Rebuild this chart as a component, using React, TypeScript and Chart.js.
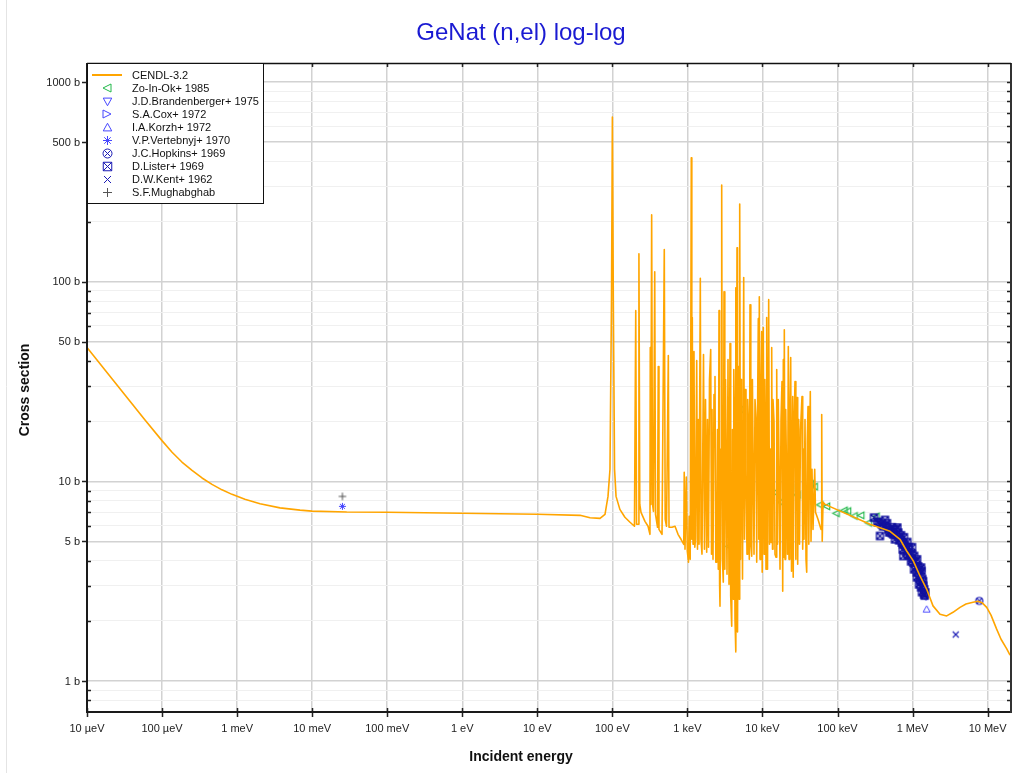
import React, { useEffect, useRef } from "react";
import { Chart, registerables } from "chart.js";

Chart.register(...registerables);

// ---------- CENDL-3.2 evaluated curve (energy in eV, cross section in b) ----------
const cendlEnergy = [
  1e-5, 2.22e-5, 3.74e-5, 5.93e-5, 9.98e-5, 1.36e-4, 1.84e-4, 2.51e-4, 3.41e-4, 4.63e-4, 6.29e-4, 8.55e-4, 1.27e-3,
  2.02e-3, 3.73e-3, 6.89e-3, 9.95e-3, 0.0289, 0.1, 1, 10, 37.1,
  50.4, 68.5, 79.8, 87.5, 93.0, 97.4, 100.1, 103, 107, 112, 126, 147, 172, 197, 205, 210, 223, 226, 232, 241, 272, 299,
  317, 320, 325, 334, 343, 353, 367, 376, 400, 409, 418, 459, 492, 506, 527, 557, 569, 623, 684, 750, 822, 895, 907,
  929, 967, 997, 1034, 1057, 1090, 1127, 1145, 1162, 1188, 1224, 1255, 1282, 1330, 1363, 1393, 1428, 1486, 1518, 1565, 1639,
  1690, 1743, 1808, 1853, 1911, 1970, 2044, 2095, 2127, 2194, 2262, 2332, 2390, 2457, 2518, 2580, 2637, 2686, 2719, 2804, 2864, 2927, 3009,
  3074, 3151, 3219, 3269, 3371, 3475, 3584, 3696, 3776, 3894, 3990, 4090, 4153, 4204, 4308, 4401, 4429, 4511, 4581, 4651, 4826,
  4886, 4977, 5101, 5179, 5260, 5424, 5626, 5767, 5908, 6036, 6225, 6361, 6519, 6681, 6826, 6995, 7191, 7347, 7484, 7718, 7958, 8205, 8385, 8590, 8807,
  8943, 9082, 9279, 9508, 9774, 9924, 10270, 10490, 10750, 10980, 11150, 11390, 11680, 12110, 12420, 12800, 13000, 13280, 13610,
  13820, 14260, 14700, 15160, 15490, 15870, 16260, 16620, 17140, 17670, 18220, 18620, 18970, 19260, 19560, 19980, 20410, 20920, 21570, 22110,
  22590, 23140, 23790, 24390, 25310, 25700, 26330, 27150, 27740, 27990, 28870, 29490, 30420, 31170, 32140, 33650, 34390, 35240, 35790, 36900, 38060,
  38880, 39590, 40460, 41470, 42360, 43410, 44360, 45730, 47170, 49700, 50930, 54980, 60290, 61590, 62550, 64100, 68150,
  2.71e5, 5.007e5, 6.807e5, 8.36e5, 1.023e6, 1.257e6, 1.544e6, 1.873e6, 2.322e6, 2.851e6, 3.459e6, 4.288e6, 5.154e6,
  6.39e6, 7.45e6, 8.42e6, 9.73e6, 1.11e7, 1.32e7, 1.51e7, 1.8e7, 1.99e7,
];
const cendlSigma = [
  46.8, 32.2, 25.2, 20.3, 16.0, 14.0, 12.5, 11.35, 10.4, 9.66, 9.07, 8.61, 8.13,
  7.72, 7.37, 7.18, 7.1, 7.02, 7.0, 6.92, 6.84, 6.76,
  6.58, 6.53, 6.84, 8.41, 11.5, 81.3, 668, 81.3, 11.5, 8.41, 7.24, 6.61, 6.24, 5.96, 71.6, 6.1, 6.1, 138, 7.67, 7.0, 6.31, 5.96,
  5.43, 46.8, 7.67, 216, 7.67, 7.08, 112, 6.84, 5.89, 37.6, 5.75, 5.43, 145, 6.46, 5.96, 42.7, 5.89, 5.89, 5.96, 5.43, 5.13, 4.84, 11.1,
  4.57, 10.5, 4.47, 3.94, 6.68, 4.07, 417, 5.13, 66.1, 4.84, 44.7, 4.68, 5.13, 40.3, 4.57, 20.4, 4.84, 104, 5.13, 4.32, 43.2,
  4.57, 25.7, 4.42, 20.4, 4.68, 32.4, 45.7, 4.32, 22.9, 4.07, 27.2, 33.5, 3.94, 3.94, 18.2, 3.63, 71.6, 3.05, 2.37, 14.5, 305, 4.07, 3.13,
  89.1, 3.63, 32.4, 16.2, 3.43, 40.7, 3.05, 49.0, 2.66, 1.88, 18.2, 2.57, 36.3, 25.7, 2.04, 93.3, 1.4, 12.9, 148, 1.76, 37.6,
  2.57, 245, 4.07, 32.4, 20.4, 3.24, 105, 5.13, 28.8, 11.5, 4.32, 25.7, 18.2, 4.07, 76.7, 4.84, 4.22, 32.4, 14.5, 4.32, 25.7, 20.4, 3.94, 20.4, 65.3,
  5.13, 84.1, 4.07, 25.7, 56.2, 3.51, 58.9, 4.32, 32.4, 16.2, 3.63, 66.1, 3.63, 81.3, 4.84, 14.5, 4.95, 46.8, 4.57,
  25.7, 19.95, 4.32, 4.17, 36.3, 4.84, 25.7, 12.9, 3.63, 20.4, 31.6, 2.82, 40.7, 4.17, 57.5, 4.07, 22.9, 11.5, 4.32, 47.3,
  4.07, 20.4, 41.7, 3.55, 26.6, 3.31, 18.2, 31.6, 4.07, 16.2, 26.3, 3.85, 20.4, 4.84, 18.2, 26.6, 4.57, 14.5, 5.13, 20.4, 4.07,
  3.51, 16.2, 23.7, 4.84, 12.9, 28.2, 5.01, 11.5, 5.75, 11.5, 7.0, 6.46, 5.75, 21.6, 5.01, 7.85, 7.67,
  6.1, 5.62, 5.13, 4.48, 4.0, 3.36, 2.88, 2.38, 2.16, 2.12, 2.21, 2.34, 2.43,
  2.48, 2.51, 2.47, 2.34, 2.14, 1.82, 1.62, 1.45, 1.35,
];

// ---------- EXFOR experimental data ----------
const zoEnergy = [3.58e3, 5.02e3, 9.57e3, 1.14e4, 1.47e4, 1.74e4, 2.35e4, 2.89e4, 4.37e4, 4.89e4, 5.79e4, 7.13e4, 9.55e4, 1.22e5, 1.36e5, 1.66e5, 2.04e5, 2.57e5, 3.26e5, 4.5e5];
const zoSigma = [4.73, 22.9, 10.4, 10.4, 8.81, 7.88, 9.26, 8.56, 9.72, 9.41, 7.63, 7.5, 6.92, 7.16, 7.1, 6.71, 6.76, 6.2, 6.68, 5.75];

const brandEnergy = [1.51e6];
const brandSigma = [2.63];

const coxEnergy = [1.05e6, 1.3e6];
const coxSigma = [4.1, 3.5];

const korzhEnergy = [1.54e6];
const korzhSigma = [2.29];

const vertEnergy = [0.0253];
const vertSigma = [7.5];

const hopkinsEnergy = [7.75e6];
const hopkinsSigma = [2.52];

const listerEnergy = [
  3.06e5, 3.39e5, 3.57e5, 3.68e5, 3.88e5, 4.04e5, 4.3e5, 4.43e5, 4.57e5, 4.75e5, 4.86e5, 5.12e5, 5.32e5, 5.32e5, 5.54e5,
  5.66e5, 5.83e5, 6.02e5, 6.02e5, 6.27e5, 6.46e5, 6.6e5, 6.81e5, 7.02e5, 7.17e5, 7.39e5, 7.46e5, 7.53e5, 7.69e5, 7.93e5,
  8.18e5, 8.51e5, 8.6e5, 8.77e5, 8.97e5, 9.25e5, 9.54e5, 9.75e5, 9.83e5, 9.84e5, 1.02e6, 1.046e6, 1.05e6, 1.1e6, 1.112e6,
  1.14e6, 1.146e6, 1.15e6, 1.19e6, 1.219e6, 1.22e6, 1.23e6, 1.26e6, 1.296e6, 1.3e6, 1.32e6, 1.336e6, 1.35e6, 1.378e6,
  1.39e6, 1.421e6, 1.43e6, 1.45e6, 1.48e6,
];
const listerSigma = [
  6.58, 6.26, 6.24, 5.33, 6.1, 5.96, 6.41, 5.98, 6.17, 5.75, 5.56, 5.58, 5.89, 5.5, 5.43,
  5.75, 5.13, 5.75, 5.37, 5.87, 5.54, 5.07, 5.23, 5.37, 4.94, 4.57, 4.84, 4.23, 5.25, 4.75,
  4.47, 4.97, 4.27, 4.66, 4.68, 4.32, 3.98, 4.11, 4.32, 4.68, 3.92, 3.63, 4.23, 3.7, 3.98,
  3.5, 3.31, 4.07, 3.75, 3.63, 3.05, 3.36, 3.17, 2.95, 3.7, 3.56, 2.79, 3.24, 3.16,
  3.0, 2.72, 2.88, 2.68, 2.78,
];

const kentEnergy = [3.76e6];
const kentSigma = [1.71];

const mughEnergy = [0.0253];
const mughSigma = [8.41];

// ---------- axes ----------
const xTickValues = [1e-5, 1e-4, 1e-3, 1e-2, 1e-1, 1, 10, 100, 1e3, 1e4, 1e5, 1e6, 1e7];
const xTickLabels = ["10 µeV", "100 µeV", "1 meV", "10 meV", "100 meV", "1 eV", "10 eV", "100 eV", "1 keV", "10 keV", "100 keV", "1 MeV", "10 MeV"];
const yGridValues = [
  0.8, 0.9, 1, 2, 3, 4, 5, 6, 7, 8, 9, 10, 20, 30, 40, 50, 60, 70, 80, 90,
  100, 200, 300, 400, 500, 600, 700, 800, 900, 1000,
];
const yLabelValues = [1, 5, 10, 50, 100, 500, 1000];
const yTickLabels = ["1 b", "5 b", "10 b", "50 b", "100 b", "500 b", "1000 b"];

const legendLabels = [
  "CENDL-3.2", "Zo-In-Ok+ 1985", "J.D.Brandenberger+ 1975", "S.A.Cox+ 1972", "I.A.Korzh+ 1972",
  "V.P.Vertebnyj+ 1970", "J.C.Hopkins+ 1969", "D.Lister+ 1969", "D.W.Kent+ 1962", "S.F.Mughabghab",
];

const FONT = '"Liberation Sans", Arial, Helvetica, sans-serif';
const ORANGE = "#FFA500";
const GREEN = "#22b84a";
const BLUE = "#4646ff";
const DBLUE = "#1a1ab4";
const NAVY = "#12129e";
const GREY = "#555555";

function makeMarker(kind: string, color: string, size: number, lw = 1): HTMLCanvasElement {
  const c = document.createElement("canvas");
  const s = Math.ceil(size) + 4;
  c.width = s;
  c.height = s;
  const g = c.getContext("2d")!;
  const m = s / 2;
  const r = size / 2;
  g.strokeStyle = color;
  g.lineWidth = lw;
  g.beginPath();
  switch (kind) {
    case "triL":
      g.moveTo(m - r, m); g.lineTo(m + r, m - r); g.lineTo(m + r, m + r); g.closePath(); break;
    case "triR":
      g.moveTo(m + r, m); g.lineTo(m - r, m - r); g.lineTo(m - r, m + r); g.closePath(); break;
    case "triD":
      g.moveTo(m, m + r); g.lineTo(m - r, m - r * 0.8); g.lineTo(m + r, m - r * 0.8); g.closePath(); break;
    case "triU":
      g.moveTo(m, m - r); g.lineTo(m - r, m + r * 0.8); g.lineTo(m + r, m + r * 0.8); g.closePath(); break;
    case "star": {
      const d = r * 0.72;
      g.moveTo(m - r, m); g.lineTo(m + r, m);
      g.moveTo(m, m - r); g.lineTo(m, m + r);
      g.moveTo(m - d, m - d); g.lineTo(m + d, m + d);
      g.moveTo(m - d, m + d); g.lineTo(m + d, m - d);
      break;
    }
    case "circX": {
      const d = r * 0.7;
      g.arc(m, m, r, 0, Math.PI * 2);
      g.moveTo(m - d, m - d); g.lineTo(m + d, m + d);
      g.moveTo(m - d, m + d); g.lineTo(m + d, m - d);
      break;
    }
    case "sqX":
      g.rect(m - r, m - r, 2 * r, 2 * r);
      g.moveTo(m - r, m - r); g.lineTo(m + r, m + r);
      g.moveTo(m - r, m + r); g.lineTo(m + r, m - r);
      break;
    case "x":
      g.moveTo(m - r, m - r); g.lineTo(m + r, m + r);
      g.moveTo(m - r, m + r); g.lineTo(m + r, m - r);
      break;
    case "plus":
      g.moveTo(m - r, m); g.lineTo(m + r, m);
      g.moveTo(m, m - r); g.lineTo(m, m + r);
      break;
  }
  g.stroke();
  return c;
}

function pts(xs: number[], ys: number[]) {
  return xs.map((x, i) => ({ x, y: ys[i] }));
}

export default function App() {
  const ref = useRef<HTMLCanvasElement | null>(null);

  useEffect(() => {
    if (!ref.current) return;

    // kind, plot colour, plot size, legend size, plot line width
    const specs: [string, string, number, number, number][] = [
      ["triL", GREEN, 6.5, 8, 1.1],
      ["triD", BLUE, 6.5, 8.5, 1],
      ["triR", BLUE, 6.5, 8, 1],
      ["triU", BLUE, 7, 8.5, 1],
      ["star", BLUE, 7, 9, 1],
      ["circX", DBLUE, 7, 9, 1.2],
      ["sqX", NAVY, 7, 8.5, 1.3],
      ["x", DBLUE, 6, 7, 1.1],
      ["plus", GREY, 7.5, 9, 1],
    ];
    const legendColors = [GREEN, BLUE, BLUE, BLUE, BLUE, DBLUE, DBLUE, DBLUE, GREY];
    const plotMarkers = specs.map(([k, c, s, , lw]) => makeMarker(k, c, s, lw));
    const legendMarkers = specs.map(([k, , , s], i) => makeMarker(k, legendColors[i], s, 1));

    const sets: [number[], number[]][] = [
      [zoEnergy, zoSigma],
      [brandEnergy, brandSigma],
      [coxEnergy, coxSigma],
      [korzhEnergy, korzhSigma],
      [vertEnergy, vertSigma],
      [hopkinsEnergy, hopkinsSigma],
      [listerEnergy, listerSigma],
      [kentEnergy, kentSigma],
      [mughEnergy, mughSigma],
    ];
    const drawOrder = [9, 4, 6, 5, 8, 3, 2, 7, 3];

    const decor = {
      id: "decor",
      afterDatasetsDraw(chart: any) {
        const { ctx, chartArea: a, scales } = chart;
        const x = scales.x;
        const y = scales.y;
        ctx.save();
        ctx.strokeStyle = "#222";
        ctx.lineWidth = 1.5;
        ctx.beginPath();
        yGridValues.forEach((v) => {
          const py = Math.round(y.getPixelForValue(v)) + 0.5;
          if (yLabelValues.includes(v)) {
            ctx.moveTo(a.left - 5, py); ctx.lineTo(a.left, py);
          } else {
            ctx.moveTo(a.left, py); ctx.lineTo(a.left + 4, py);
          }
          ctx.moveTo(a.right - 4, py); ctx.lineTo(a.right, py);
        });
        xTickValues.forEach((v) => {
          const px = Math.round(x.getPixelForValue(v)) + 0.5;
          ctx.moveTo(px, a.bottom - 4); ctx.lineTo(px, a.bottom + 5);
          ctx.moveTo(px, a.top); ctx.lineTo(px, a.top + 4);
        });
        ctx.stroke();
        // frame
        ctx.strokeStyle = "#1a1a1a";
        ctx.lineWidth = 2;
        ctx.beginPath();
        ctx.moveTo(a.left, a.top); ctx.lineTo(a.left, a.bottom + 1);
        ctx.moveTo(a.left - 1, a.bottom); ctx.lineTo(a.right, a.bottom);
        ctx.stroke();
        ctx.strokeStyle = "#333";
        ctx.beginPath();
        ctx.moveTo(a.right, a.top); ctx.lineTo(a.right, a.bottom + 1);
        ctx.stroke();
        ctx.lineWidth = 1.5;
        ctx.strokeStyle = "#111";
        ctx.beginPath();
        ctx.moveTo(a.left, a.top + 0.5); ctx.lineTo(a.right, a.top + 0.5);
        ctx.stroke();
        ctx.restore();
      },
      afterDraw(chart: any) {
        const { ctx, chartArea: a, scales } = chart;
        const x = scales.x;
        const y = scales.y;
        ctx.save();
        // faint page frame line
        ctx.strokeStyle = "#e4e4e4";
        ctx.lineWidth = 1;
        ctx.beginPath();
        ctx.moveTo(6.5, 0); ctx.lineTo(6.5, chart.height);
        ctx.stroke();

        // title
        ctx.fillStyle = "#1a1ad2";
        ctx.font = `24px ${FONT}`;
        ctx.textAlign = "center";
        ctx.textBaseline = "middle";
        ctx.fillText("GeNat (n,el) log-log", 521, 33);

        // tick labels
        ctx.fillStyle = "#222";
        ctx.font = `11px ${FONT}`;
        ctx.textAlign = "right";
        ctx.textBaseline = "middle";
        yLabelValues.forEach((v, i) => {
          ctx.fillText(yTickLabels[i], a.left - 7, y.getPixelForValue(v) + 0.5);
        });
        ctx.textAlign = "center";
        ctx.textBaseline = "alphabetic";
        xTickValues.forEach((v, i) => {
          ctx.fillText(xTickLabels[i], x.getPixelForValue(v), a.bottom + 20);
        });

        // axis titles
        ctx.fillStyle = "#111";
        ctx.font = `bold 14px ${FONT}`;
        ctx.textAlign = "center";
        ctx.textBaseline = "middle";
        ctx.fillText("Incident energy", 521, 757);
        ctx.save();
        ctx.translate(25, 390);
        ctx.rotate(-Math.PI / 2);
        ctx.fillText("Cross section", 0, 0);
        ctx.restore();

        // legend box
        const lx = a.left;
        const ly = a.top;
        const lw = 176;
        const lh = 140;
        ctx.fillStyle = "#ffffff";
        ctx.fillRect(lx, ly, lw, lh);
        ctx.strokeStyle = "#111";
        ctx.lineWidth = 1;
        ctx.strokeRect(lx + 0.5, ly + 0.5, lw, lh);
        ctx.font = `11px ${FONT}`;
        ctx.textAlign = "left";
        ctx.textBaseline = "middle";
        legendLabels.forEach((label, i) => {
          const cy = ly + 12 + i * 13.1;
          if (i === 0) {
            ctx.strokeStyle = ORANGE;
            ctx.lineWidth = 2;
            ctx.beginPath();
            ctx.moveTo(lx + 5, cy); ctx.lineTo(lx + 35, cy);
            ctx.stroke();
          } else {
            const img = legendMarkers[i - 1];
            ctx.drawImage(img, Math.round(lx + 20 - img.width / 2), Math.round(cy - img.height / 2));
          }
          ctx.fillStyle = "#111";
          ctx.fillText(label, lx + 45, cy + 0.5);
        });
        ctx.restore();
      },
    };

    const datasets: any[] = [
      {
        label: legendLabels[0],
        data: pts(cendlEnergy, cendlSigma),
        showLine: true,
        borderColor: ORANGE,
        backgroundColor: ORANGE,
        borderWidth: 1.6,
        borderJoinStyle: "round",
        pointRadius: 0,
        tension: 0,
        order: 1,
      },
      ...sets.map(([xs, ys], i) => ({
        label: legendLabels[i + 1],
        data: pts(xs, ys),
        showLine: false,
        pointStyle: plotMarkers[i],
        pointRadius: 4,
        borderColor: specs[i][1],
        backgroundColor: "transparent",
        order: drawOrder[i],
      })),
    ];

    const chart = new Chart(ref.current, {
      type: "scatter",
      data: { datasets },
      options: {
        animation: false,
        responsive: false,
        maintainAspectRatio: false,
        layout: { padding: { left: 0, right: 9, top: 63, bottom: 0 } },
        plugins: {
          legend: { display: false },
          title: { display: false },
          tooltip: { enabled: false },
        },
        scales: {
          x: {
            type: "logarithmic",
            position: "bottom",
            min: 1e-5,
            max: 2.05e7,
            afterBuildTicks: (axis: any) => {
              axis.ticks = xTickValues.map((v) => ({ value: v }));
            },
            afterFit: (axis: any) => {
              axis.height = 61;
            },
            ticks: { display: false },
            grid: { color: "#d2d2d2", lineWidth: 1.5, drawTicks: false },
            border: { display: false },
          },
          y: {
            type: "logarithmic",
            position: "left",
            min: 0.708,
            max: 1245,
            afterBuildTicks: (axis: any) => {
              axis.ticks = yGridValues.map((v) => ({ value: v }));
            },
            afterFit: (axis: any) => {
              axis.width = 87;
            },
            ticks: { display: false },
            grid: {
              color: (c: any) => (c.tick && yLabelValues.includes(c.tick.value) ? "#d2d2d2" : "#f0f0f0"),
              lineWidth: (c: any) => (c.tick && yLabelValues.includes(c.tick.value) ? 1.5 : 1),
              drawTicks: false,
            },
            border: { display: false },
          },
        },
      } as any,
      plugins: [decor],
    });

    return () => chart.destroy();
  }, []);

  return (
    <div style={{ position: "absolute", left: 0, top: 0, width: 1020, height: 773, background: "#fff" }}>
      <canvas ref={ref} width={1020} height={773} style={{ display: "block" }} />
    </div>
  );
}
